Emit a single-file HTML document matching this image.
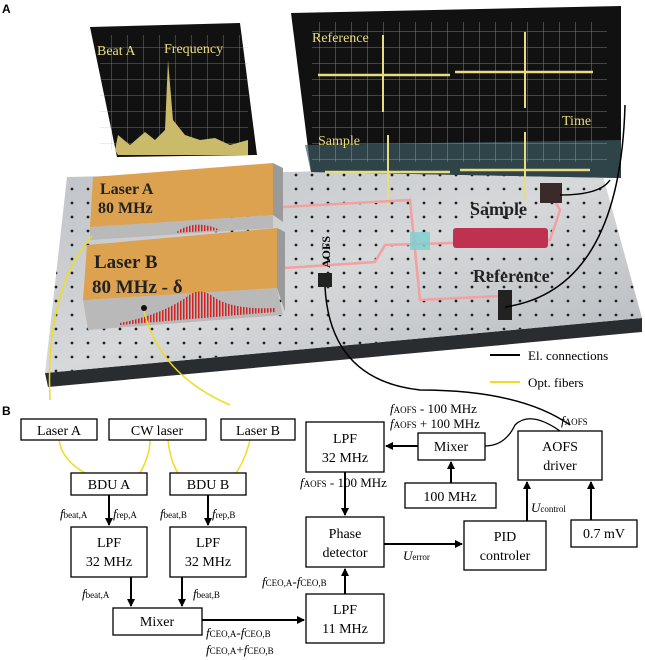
<!DOCTYPE html>
<html><head><meta charset="utf-8"><style>
body{margin:0;background:#fff;}
svg{display:block;font-family:"Liberation Serif",serif;}
.b{fill:#fff;stroke:#000;stroke-width:1.3;}
.t{font-size:14px;text-anchor:middle;}
.s{font-size:13px;}
</style></head><body>
<svg width="645" height="660" viewBox="0 0 645 660" xmlns="http://www.w3.org/2000/svg">
<defs>
<marker id="ar" markerWidth="8" markerHeight="8" refX="7" refY="4" orient="auto" markerUnits="userSpaceOnUse"><path d="M0,0 L8,4 L0,8 z" fill="#000"/></marker>
<pattern id="holes" width="16" height="14" patternUnits="userSpaceOnUse"><circle cx="8" cy="7" r="1.4" fill="#222"/></pattern>
<pattern id="grid" width="16" height="16" patternUnits="userSpaceOnUse"><path d="M16 0 V16 M0 16 H16" stroke="#bbb" stroke-width="0.8" fill="none"/></pattern>
<pattern id="comb" width="3" height="10" patternUnits="userSpaceOnUse"><rect width="1.5" height="10" fill="#d42020"/></pattern>
<linearGradient id="tg" x1="0" y1="0" x2="1" y2="1"><stop offset="0" stop-color="#bfc3c7"/><stop offset="0.5" stop-color="#d6d8da"/><stop offset="1" stop-color="#b4b8bc"/></linearGradient>
</defs>
<text x="2" y="13" font-family="Liberation Sans" font-weight="bold" font-size="12">A</text>
<!-- table -->
<polygon points="45,373 642,318 642,332 48,387" fill="#2a2d30"/>
<polygon points="67,177 600,165 642,318 45,373" fill="url(#tg)"/>
<polygon points="67,177 600,165 642,318 45,373" fill="url(#holes)"/>
<!-- big screen -->
<polygon points="291,13 621,6 621,178 311,172" fill="#111"/>
<polygon points="305,145 621,140 621,178 311,172" fill="#3c5a60" opacity="0.7"/>
<rect x="312" y="22" width="295" height="140" fill="url(#grid)" opacity="0.8"/>
<text x="312" y="42" fill="#e8dc80" font-size="14">Reference</text>
<text x="318" y="145" fill="#e8dc80" font-size="14">Sample</text>
<text x="562" y="125" fill="#e8dc80" font-size="14">Time</text>
<path d="M318 75 H450 M455 72 H593 M325 172 H450 M460 170 H590" stroke="#e8dc80" stroke-width="2.5"/>
<path d="M383 35 V112 M525 32 V108 M388 135 V205 M525 132 V200" stroke="#e8dc80" stroke-width="2"/>
<!-- beat screen -->
<polygon points="90,27 240,23 257,155 117,157" fill="#111"/>
<rect x="100" y="35" width="148" height="115" fill="url(#grid)" opacity="0.7"/>
<text x="97" y="55" fill="#e8dc80" font-size="14">Beat A</text>
<text x="164" y="53" fill="#e8dc80" font-size="14">Frequency</text>
<path d="M115 150 L118 135 L130 145 L145 132 L155 140 L165 130 L168 60 L173 120 L185 135 L200 140 L215 138 L230 145 L248 140 L248 155 L118 155z" fill="#c9bb6a"/>
<!-- lasers -->
<polygon points="273,163 283,168 283,222 273,215" fill="#9a9a9a"/>
<polygon points="90,227 273,215 273,228 90,240" fill="#b9b9b9"/>
<polygon points="93,177 273,163 273,215 90,227" fill="#dca24f"/>
<text x="100" y="194" font-size="16" font-weight="bold" fill="#222">Laser A</text>
<text x="98" y="213" font-size="16" font-weight="bold" fill="#222">80 MHz</text>
<path d="M175 233 Q195 218 220 230 z" fill="url(#comb)"/>
<polygon points="277,228 285,232 285,312 277,288" fill="#9a9a9a"/>
<polygon points="83,300 277,288 283,315 88,330" fill="#b9b9b9"/>
<polygon points="87,245 277,228 277,288 83,300" fill="#dca24f"/>
<text x="94" y="268" font-size="19" font-weight="bold" fill="#222">Laser B</text>
<text x="92" y="293" font-size="19" font-weight="bold" fill="#222">80 MHz - δ</text>
<path d="M120 323 Q160 315 185 298 Q200 285 215 298 Q235 310 275 308 L275 312 L120 325z" fill="url(#comb)"/>
<circle cx="144" cy="308" r="3" fill="#111"/>
<!-- beams -->
<g stroke="#f2a0a0" stroke-width="2.5" fill="none">
<path d="M283 207 L410 200 L420 300 L500 296"/>
<path d="M285 268 L375 262 L385 245 L550 240 L560 210 L552 196"/>
</g>
<rect x="453" y="228" width="95" height="20" rx="3" fill="#c03050"/>
<rect x="410" y="232" width="20" height="18" fill="#7ccfd0" opacity="0.8"/>
<text x="470" y="215" font-size="18" font-weight="bold" fill="#222">Sample</text>
<text x="473" y="282" font-size="18" font-weight="bold" fill="#222">Reference</text>
<rect x="540" y="183" width="22" height="20" fill="#3a2a2a"/>
<rect x="498" y="290" width="14" height="30" fill="#222"/>
<rect x="318" y="273" width="14" height="14" fill="#222"/>
<text transform="translate(330,268) rotate(-90)" font-size="12" font-weight="bold">AOFS</text>
<!-- cables -->
<g fill="none" stroke="#000" stroke-width="1.5">
<path d="M325 287 Q330 380 420 390 Q520 390 570 425"/>
<path d="M560 195 Q600 195 610 180"/>
<path d="M505 307 Q620 290 625 105"/>
</g>
<g fill="none" stroke="#f0dc20" stroke-width="1.5">
<path d="M92 236 Q45 290 50 400"/>
<path d="M144 311 Q160 375 230 405"/>
</g>
<path d="M490 355 H520" stroke="#000" stroke-width="2"/><text x="528" y="360" class="s">El. connections</text>
<path d="M490 382 H520" stroke="#f0dc20" stroke-width="2"/><text x="528" y="387" class="s">Opt. fibers</text>
<!-- B -->
<text x="2" y="415" font-family="Liberation Sans" font-weight="bold" font-size="12">B</text>
<g fill="none" stroke="#f0dc20" stroke-width="1.5">
<path d="M59 440 Q62 460 85 473"/><path d="M150 440 Q150 455 140 473"/>
<path d="M168 440 Q170 460 178 473"/><path d="M250 440 Q245 460 236 473"/>
</g>
<rect class="b" x="21" y="419" width="76" height="21"/><text class="t" x="59" y="435">Laser A</text>
<rect class="b" x="109" y="419" width="97" height="21"/><text class="t" x="157" y="435">CW laser</text>
<rect class="b" x="221" y="419" width="74" height="21"/><text class="t" x="258" y="435">Laser B</text>
<rect class="b" x="71" y="473" width="76" height="22"/><text class="t" x="109" y="489">BDU A</text>
<rect class="b" x="170" y="473" width="76" height="22"/><text class="t" x="208" y="489">BDU B</text>
<rect class="b" x="71" y="527" width="76" height="50"/><text class="t" x="109" y="547">LPF</text><text class="t" x="109" y="566">32 MHz</text>
<rect class="b" x="170" y="527" width="76" height="50"/><text class="t" x="208" y="547">LPF</text><text class="t" x="208" y="566">32 MHz</text>
<rect class="b" x="113" y="608" width="89" height="27"/><text class="t" x="157" y="626">Mixer</text>
<rect class="b" x="306" y="594" width="78" height="49"/><text class="t" x="345" y="614">LPF</text><text class="t" x="345" y="633">11 MHz</text>
<rect class="b" x="306" y="517" width="78" height="50"/><text class="t" x="345" y="538">Phase</text><text class="t" x="345" y="557">detector</text>
<rect class="b" x="306" y="422" width="78" height="50"/><text class="t" x="345" y="443">LPF</text><text class="t" x="345" y="462">32 MHz</text>
<rect class="b" x="418" y="433" width="67" height="27"/><text class="t" x="451" y="451">Mixer</text>
<rect class="b" x="405" y="483" width="91" height="25"/><text class="t" x="450" y="501">100 MHz</text>
<rect class="b" x="518" y="431" width="84" height="49"/><text class="t" x="560" y="451">AOFS</text><text class="t" x="560" y="470">driver</text>
<rect class="b" x="464" y="521" width="82" height="49"/><text class="t" x="505" y="541">PID</text><text class="t" x="505" y="560">controler</text>
<rect class="b" x="571" y="520" width="66" height="27"/><text class="t" x="604" y="538">0.7 mV</text>
<g stroke="#000" stroke-width="2" marker-end="url(#ar)">
<line x1="109" y1="495" x2="109" y2="525"/><line x1="208" y1="495" x2="208" y2="525"/>
<line x1="131" y1="577" x2="131" y2="606"/><line x1="182" y1="577" x2="182" y2="606"/>
<line x1="202" y1="620" x2="304" y2="620"/>
<line x1="345" y1="594" x2="345" y2="569"/>
<line x1="345" y1="472" x2="345" y2="515"/>
<line x1="418" y1="446" x2="386" y2="446"/>
<line x1="451" y1="483" x2="451" y2="462"/>
<line x1="384" y1="544" x2="462" y2="544"/>
<line x1="527" y1="521" x2="527" y2="482"/>
<line x1="591" y1="520" x2="591" y2="482"/>
</g>
<path d="M485 446 Q505 446 515 425 Q530 410 560 431" fill="none" stroke="#000" stroke-width="1.3"/>
<g class="s">
<text x="60" y="518"><tspan font-style="italic">f</tspan><tspan font-size="9">beat,A</tspan></text>
<text x="113" y="518"><tspan font-style="italic">f</tspan><tspan font-size="9">rep,A</tspan></text>
<text x="160" y="518"><tspan font-style="italic">f</tspan><tspan font-size="9">beat,B</tspan></text>
<text x="212" y="518"><tspan font-style="italic">f</tspan><tspan font-size="9">rep,B</tspan></text>
<text x="82" y="598"><tspan font-style="italic">f</tspan><tspan font-size="9">beat,A</tspan></text>
<text x="193" y="598"><tspan font-style="italic">f</tspan><tspan font-size="9">beat,B</tspan></text>
<text x="206" y="637"><tspan font-style="italic">f</tspan><tspan font-size="9">CEO,A</tspan>-<tspan font-style="italic">f</tspan><tspan font-size="9">CEO,B</tspan></text>
<text x="206" y="654"><tspan font-style="italic">f</tspan><tspan font-size="9">CEO,A</tspan>+<tspan font-style="italic">f</tspan><tspan font-size="9">CEO,B</tspan></text>
<text x="262" y="586"><tspan font-style="italic">f</tspan><tspan font-size="9">CEO,A</tspan>-<tspan font-style="italic">f</tspan><tspan font-size="9">CEO,B</tspan></text>
<text x="300" y="487"><tspan font-style="italic">f</tspan><tspan font-size="9">AOFS</tspan> - 100 MHz</text>
<text x="390" y="413"><tspan font-style="italic">f</tspan><tspan font-size="9">AOFS</tspan> - 100 MHz</text>
<text x="390" y="428"><tspan font-style="italic">f</tspan><tspan font-size="9">AOFS</tspan> + 100 MHz</text>
<text x="561" y="425"><tspan font-style="italic">f</tspan><tspan font-size="9">AOFS</tspan></text>
<text x="403" y="560"><tspan font-style="italic">U</tspan><tspan font-size="9">error</tspan></text>
<text x="531" y="512"><tspan font-style="italic">U</tspan><tspan font-size="9">control</tspan></text>
</g>
</svg>
</body></html>
